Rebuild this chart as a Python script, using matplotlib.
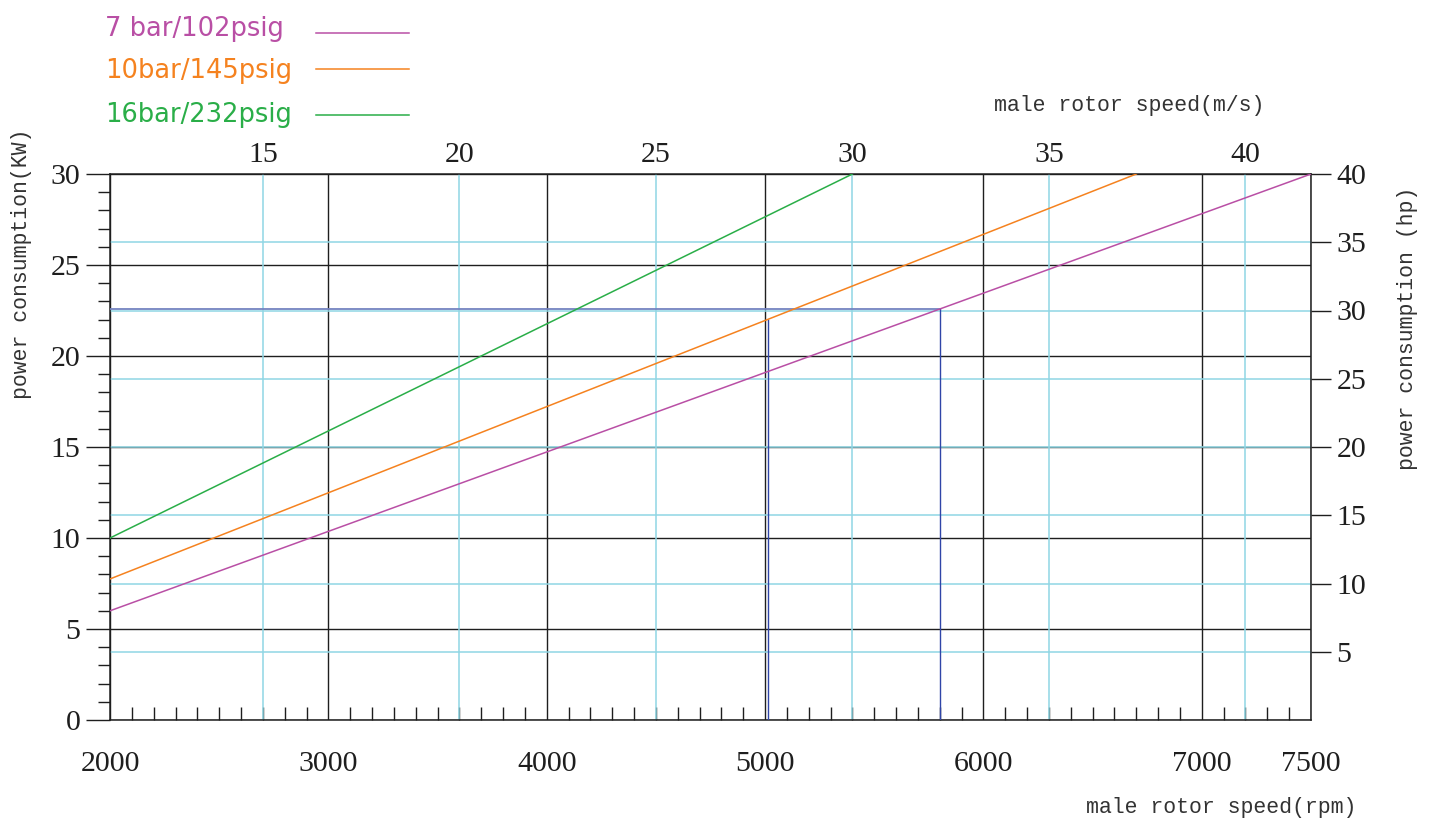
import numpy as np
import matplotlib.pyplot as plt
from matplotlib.lines import Line2D
from matplotlib.ticker import MultipleLocator

# power consumption curves (rpm, kW)
rpm_7 = [2000, 7500]
kw_7 = [6.0, 30.0]
rpm_10 = [2000, 6700]
kw_10 = [7.75, 30.0]
rpm_16 = [2000, 5400]
kw_16 = [10.0, 30.0]

# example reading lines (blue)
ex_h_rpm = [2000, 5800]
ex_h_kw = [22.6, 22.6]
ex_v1_rpm = [5015, 5015]
ex_v1_kw = [0, 22.0]
ex_v2_rpm = [5800, 5800]
ex_v2_kw = [0, 22.6]

x_labels = [2000, 3000, 4000, 5000, 6000, 7000, 7500]
ms_ticks = [15, 20, 25, 30, 35, 40]
hp_ticks = [5, 10, 15, 20, 25, 30, 35, 40]
hp_grid = [5, 10, 15, 20, 25, 30, 35]

legend_labels = ['7 bar/102psig', '10bar/145psig', '16bar/232psig']
colors = ['#b94fa5', '#f5821f', '#2aae48']

RPM_PER_MS = 180.0   # male rotor: m/s = rpm / 180
KW_PER_HP = 0.75

cyan = '#8fd6e4'
black = '#1e1e1e'

W, H = 1435, 823
fig = plt.figure(figsize=(W / 100, H / 100), dpi=100)
ax = fig.add_axes([110 / W, 1 - 720 / H, (1311 - 110) / W, (720 - 174) / H])
ax.set_xlim(2000, 7500)
ax.set_ylim(0, 30)

for s in ax.spines.values():
    s.set_color(black)
    s.set_linewidth(1.1)

# cyan grid for secondary units
for v in ms_ticks:
    ax.axvline(v * RPM_PER_MS, color=cyan, lw=1.1, zorder=1)
for h in hp_grid:
    ax.axhline(h * KW_PER_HP, color=cyan, lw=1.1, zorder=1)

# black major grid
ax.xaxis.set_major_locator(MultipleLocator(1000))
ax.yaxis.set_major_locator(MultipleLocator(5))
ax.xaxis.set_minor_locator(MultipleLocator(100))
ax.yaxis.set_minor_locator(MultipleLocator(1))
ax.grid(True, which='major', color=black, lw=1.0, zorder=2)
ax.set_axisbelow(True)

ax.set_xticks(x_labels)
ax.set_xticklabels([str(v) for v in x_labels])
ax.tick_params(axis='x', which='major', length=0, pad=22, labelsize=21.5, labelcolor=black)
ax.tick_params(axis='x', which='minor', direction='in', length=9.5, width=1.0, color=black)
ax.tick_params(axis='y', which='major', direction='out', length=17.3, width=1.0, color=black,
               pad=4, labelsize=21.5, labelcolor=black)
ax.tick_params(axis='y', which='minor', direction='out', length=8.6, width=1.0, color=black)
for lab in ax.get_xticklabels() + ax.get_yticklabels():
    lab.set_fontfamily('Liberation Serif')

# data curves
ax.plot(rpm_7, kw_7, color=colors[0], lw=1.1, zorder=4)
ax.plot(rpm_10, kw_10, color=colors[1], lw=1.1, zorder=4)
ax.plot(rpm_16, kw_16, color=colors[2], lw=1.1, zorder=4)

ax.plot(ex_h_rpm, ex_h_kw, color='#7483c0', lw=1.3, zorder=3)
ax.plot(ex_v1_rpm, ex_v1_kw, color='#2f45a8', lw=1.0, zorder=3)
ax.plot(ex_v2_rpm, ex_v2_kw, color='#2f45a8', lw=1.0, zorder=3)

# top axis (m/s)
top = ax.secondary_xaxis('top', functions=(lambda r: r / RPM_PER_MS, lambda v: v * RPM_PER_MS))
top.set_xticks(ms_ticks)
top.tick_params(length=0, pad=4, labelsize=21.5, labelcolor=black)
top.spines['top'].set_visible(False)
for lab in top.get_xticklabels():
    lab.set_fontfamily('Liberation Serif')

# right axis (hp)
right = ax.secondary_yaxis('right', functions=(lambda k: k / KW_PER_HP, lambda h: h * KW_PER_HP))
right.set_yticks(hp_ticks)
right.tick_params(direction='out', length=14.4, width=1.0, color=black, pad=4,
                  labelsize=21.5, labelcolor=black)
right.spines['right'].set_visible(False)
for lab in right.get_yticklabels():
    lab.set_fontfamily('Liberation Serif')

# axis titles
mono = 'Liberation Mono'
fig.text(22 / W, 1 - 264 / H, 'power consumption(KW)', rotation=90, ha='center', va='center',
         fontsize=15.5, family=mono, color='#333333')
fig.text(1408 / W, 1 - 328 / H, 'power consumption (hp)', rotation=90, ha='center', va='center',
         fontsize=15.5, family=mono, color='#333333')
fig.text(1221 / W, 1 - 808 / H, 'male rotor speed(rpm)', ha='center', va='center',
         fontsize=15.5, family=mono, color='#333333')
fig.text(1129 / W, 1 - 105 / H, 'male rotor speed(m/s)', ha='center', va='center',
         fontsize=15.5, family=mono, color='#333333')

# legend drawn by hand at top-left
leg_y = [29, 71, 115]
line_y = [33, 69, 115]
for lab, c, ty, ly in zip(legend_labels, colors, leg_y, line_y):
    fig.text(105 / W, 1 - ty / H, lab, ha='left', va='center', fontsize=18.5,
             family='DejaVu Sans', color=c)
    fig.add_artist(Line2D([316 / W, 409 / W], [1 - ly / H, 1 - ly / H], color=c, lw=1.1,
                          transform=fig.transFigure))

fig.savefig('out.png', dpi=100)
